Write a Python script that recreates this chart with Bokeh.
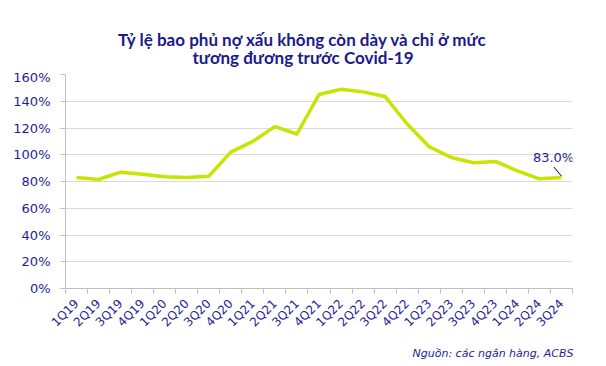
import math
from bokeh.plotting import figure
from bokeh.layouts import column
from bokeh.models import Range1d, FixedTicker, Label, Title, ColumnDataSource
from bokeh.embed import file_html
from bokeh.resources import INLINE

# ---- data ----
categories = ["1Q19", "2Q19", "3Q19", "4Q19", "1Q20", "2Q20", "3Q20", "4Q20",
              "1Q21", "2Q21", "3Q21", "4Q21", "1Q22", "2Q22", "3Q22", "4Q22",
              "1Q23", "2Q23", "3Q23", "4Q23", "1Q24", "2Q24", "3Q24"]
coverage = [83, 81.5, 87, 85.5, 83.5, 83, 84, 102,
            110, 121, 115.5, 145, 149, 147, 143.5, 123,
            106, 98, 94, 95, 88, 82, 83]
y_ticks = [0, 20, 40, 60, 80, 100, 120, 140, 160]
title_lines = ["Tỷ lệ bao phủ nợ xấu không còn dày và chỉ ở mức",
               "tương đương trước Covid-19"]
source_note = "Nguồn: các ngân hàng, ACBS"

NAVY = "#1E1E96"
TITLE_C = "#1A1A8C"
LINE = "#C8E400"
GRID = "#D9D9D9"
AXIS = "#BFBFBF"

W = 606
TITLE_H = 69
LEFT, RIGHT = 65, 34

# ---------- title strip ----------
t = figure(width=W, height=TITLE_H, output_backend="svg", toolbar_location=None,
           x_range=Range1d(LEFT, W - RIGHT), y_range=Range1d(0, TITLE_H),
           x_axis_type=None, y_axis_type=None,
           min_border_left=LEFT, min_border_right=RIGHT,
           min_border_top=0, min_border_bottom=0)
t.outline_line_color = None
t.xgrid.grid_line_color = None
t.ygrid.grid_line_color = None
for txt, yy in zip(title_lines, [TITLE_H - 44 + 5.5, TITLE_H - 62 + 5.5]):
    t.add_layout(Label(x=302.5, y=yy, text=txt, text_align="center",
                       text_baseline="alphabetic", text_font="Lato",
                       text_font_style="bold", text_font_size="17px",
                       text_color=TITLE_C))

# ---------- main chart ----------
idx = list(range(len(categories)))

p = figure(width=W, height=366 - TITLE_H, output_backend="svg", toolbar_location=None,
           x_range=Range1d(-0.5, len(categories) - 0.5), y_range=Range1d(0, 160),
           min_border_left=LEFT, min_border_right=RIGHT, min_border_top=5,
           min_border_bottom=78)
p.outline_line_color = None
p.background_fill_color = "white"
p.border_fill_color = "white"

src = ColumnDataSource(dict(x=idx, y=coverage))
p.line("x", "y", source=src, line_color=LINE, line_width=3.5, line_join="round")

# x axis: labels at centres, ticks at boundaries
xa = p.xaxis[0]
xa.ticker = FixedTicker(ticks=idx, minor_ticks=[i - 0.5 for i in range(len(categories) + 1)])
xa.major_label_overrides = {i: c for i, c in zip(idx, categories)}
xa.major_label_orientation = math.pi / 4
xa.major_tick_line_color = None
xa.major_tick_out = 0
xa.major_tick_in = 0
xa.minor_tick_line_color = AXIS
xa.minor_tick_out = 5
xa.minor_tick_in = 0
xa.axis_line_color = AXIS
xa.major_label_text_color = NAVY
xa.major_label_text_font = "DejaVu Sans"
xa.major_label_text_font_size = "12px"
xa.major_label_standoff = 8

ya = p.yaxis[0]
ya.ticker = FixedTicker(ticks=y_ticks)
ya.major_label_overrides = {v: f"{v}%" for v in y_ticks}
ya.major_tick_line_color = AXIS
ya.major_tick_out = 5
ya.major_tick_in = 0
ya.minor_tick_line_color = None
ya.axis_line_color = AXIS
ya.major_label_text_color = NAVY
ya.major_label_text_font = "DejaVu Sans"
ya.major_label_text_font_size = "13px"
ya.major_label_standoff = 10

p.xgrid.grid_line_color = None
p.ygrid.grid_line_color = GRID
p.ygrid.grid_line_width = 1

# last-value annotation
last_x, last_y = idx[-1], coverage[-1]
p.add_layout(Label(x=last_x - 0.36, y=last_y + 15.3, text=f"{last_y:.1f}%",
                   text_align="center", text_baseline="middle",
                   text_font="DejaVu Sans", text_font_size="13px", text_color=NAVY))
p.segment(x0=[last_x - 0.34], y0=[last_y + 7.8], x1=[last_x], y1=[last_y + 1],
          line_color="black", line_width=1)

# source note
p.add_layout(Title(text=source_note, align="right", offset=-1, standoff=14,
                   text_font="DejaVu Sans", text_font_style="italic",
                   text_font_size="11px", text_color=NAVY), "below")

open("out.html", "w").write(file_html(column(t, p), INLINE))
